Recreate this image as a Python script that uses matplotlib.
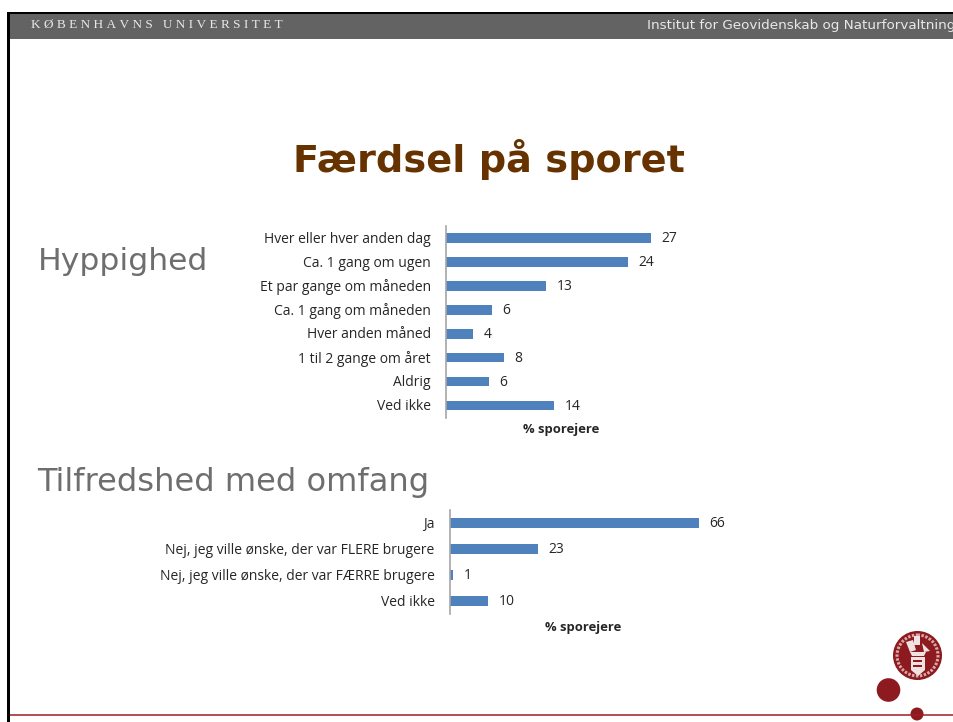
import matplotlib
matplotlib.use('Agg')
import matplotlib.pyplot as plt
from matplotlib.patches import Circle, Rectangle, Polygon
from matplotlib.transforms import ScaledTranslation

W, H = 954, 722

# data
freq_labels = ['Hver eller hver anden dag', 'Ca. 1 gang om ugen', 'Et par gange om måneden',
               'Ca. 1 gang om måneden', 'Hver anden måned', '1 til 2 gange om året', 'Aldrig', 'Ved ikke']
freq_values = [27.0, 23.9, 13.2, 6.05, 3.55, 7.6, 5.6, 14.2]
sat_labels = ['Ja', 'Nej, jeg ville ønske, der var FLERE brugere',
              'Nej, jeg ville ønske, der var FÆRRE brugere', 'Ved ikke']
sat_values = [66.1, 23.4, 0.9, 10.2]

BLUE = '#4f81bd'
RED = '#8c1a1f'
LIGHT = '#f0e2e2'
BROWN = '#663300'
GREY = '#6e6e6e'
CHART_FONT = ['Open Sans', 'DejaVu Sans']


def px_axes(fig, left, top, width, height):
    return fig.add_axes([left / W, 1 - (top + height) / H, width / W, height / H])


def bar_chart(fig, labels, values, left, top, width, height, px_per_unit, bar_h, fontsize):
    ax = px_axes(fig, left, top, width, height)
    ax.patch.set_alpha(0)
    ax.barh(range(len(values)), values, height=bar_h, color=BLUE)
    ax.set_ylim(len(values) - 0.5, -0.5)
    ax.set_xlim(0, width / px_per_unit)
    ax.set_yticks(range(len(values)), labels, family=CHART_FONT, fontsize=fontsize, color='#262626')
    ax.tick_params(axis='y', length=0, pad=11)
    # labels sit about a pixel higher than the bar centres
    shift = ScaledTranslation(0, 0.8 / 100, fig.dpi_scale_trans)
    for lab in ax.get_yticklabels():
        lab.set_transform(lab.get_transform() + shift)
    ax.set_xticks([])
    for s in ['top', 'right', 'bottom']:
        ax.spines[s].set_visible(False)
    ax.spines['left'].set_color('#a6a6a6')
    ax.spines['left'].set_linewidth(1.2)
    for i, v in enumerate(values):
        ax.annotate(f'{v:.0f}', (v, i), xytext=(7.5, -0.6), textcoords='offset points', va='center',
                    family=CHART_FONT, fontsize=10, color='#262626')
    return ax


fig = plt.figure(figsize=(W / 100, H / 100), dpi=100, facecolor='white')

# slide decoration, drawn in pixel coordinates
bg = fig.add_axes([0, 0, 1, 1])
bg.set_xlim(0, W)
bg.set_ylim(H, 0)
bg.axis('off')
bg.add_patch(Rectangle((8, 14), W, 25, color='#636363', lw=0))
bg.add_patch(Rectangle((7.5, 11.5), W, 2.5, color='black', lw=0))
bg.add_patch(Rectangle((7.5, 11.5), 2.5, H, color='black', lw=0))
bg.hlines(714.5, 10, W, color='#a01c22', lw=1.1)

# four-per-em spaces give the letterspacing of the logotype
bg.text(31, 25.5, '\u2005'.join('KØBENHAVNS UNIVERSITET'), family=['Liberation Serif', 'DejaVu Sans'],
        fontsize=9.5, color='#e8e8e8', va='center', ha='left')
bg.text(647, 25, 'Institut for Geovidenskab og Naturforvaltning', family='DejaVu Sans', fontsize=9.7,
        color='#e8e8e8', va='center', ha='left')

bg.text(488.5, 160, 'Færdsel på sporet', family='DejaVu Sans', fontsize=27.5, fontweight='bold',
        color=BROWN, ha='center', va='center')
bg.text(37.5, 261.5, 'Hyppighed', family='DejaVu Sans', fontsize=22.6, color=GREY, va='center')
bg.text(37.5, 482, 'Tilfredshed med omfang', family='DejaVu Sans', fontsize=23.1, color=GREY, va='center')

bg.text(561, 429, '% sporejere', family=CHART_FONT, fontsize=9.4, fontweight='bold', color='#262626',
        ha='center', va='center')
bg.text(583, 627, '% sporejere', family=CHART_FONT, fontsize=9.4, fontweight='bold', color='#262626',
        ha='center', va='center')

# seal and dots
bg.add_patch(Circle((917.5, 655.5), 24.5, color=RED, lw=0))
bg.add_patch(Circle((917.5, 655.5), 20.5, fill=False, ec='#d9a9a9', lw=2.2, ls=(0, (0.8, 0.5))))
bg.add_patch(Polygon([(911, 657), (925, 657), (925, 670), (918, 676), (911, 670)], color=LIGHT, lw=0))
bg.add_patch(Rectangle((913.5, 660), 9, 2, color=RED, lw=0))
bg.add_patch(Rectangle((913.5, 665), 9, 2, color=RED, lw=0))
bg.add_patch(Polygon([(910, 652), (926, 652), (924, 656), (912, 656)], color=LIGHT, lw=0))
bg.add_patch(Rectangle((914.5, 636), 6, 9, color=LIGHT, lw=0))
bg.add_patch(Polygon([(906, 642), (913, 640), (916, 650), (910, 652)], color=LIGHT, lw=0))
bg.add_patch(Polygon([(922, 643), (930, 651), (924, 652)], color=LIGHT, lw=0))
bg.add_patch(Circle((888.5, 690), 11.8, color=RED, lw=0))
bg.add_patch(Circle((917, 714), 6.5, color=RED, lw=0))

# charts
bar_chart(fig, freq_labels, freq_values, 446, 226, 300, 191.5, 7.6, 0.40, 10.0)
bar_chart(fig, sat_labels, sat_values, 450, 510, 300, 104, 3.77, 0.38, 10.0)

fig.savefig('out.png', dpi=100)
